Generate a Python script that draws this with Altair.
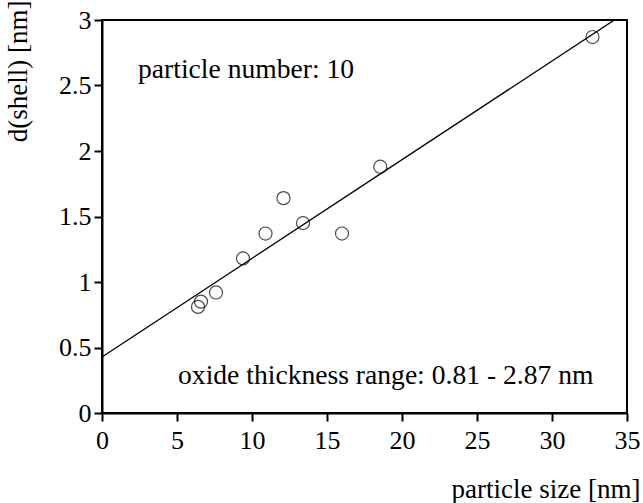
import altair as alt
import pandas as pd

particle_size = [6.4, 6.6, 7.6, 9.4, 10.9, 12.1, 13.4, 16.0, 18.55, 32.7]
shell_thickness = [0.81, 0.85, 0.92, 1.18, 1.37, 1.64, 1.45, 1.37, 1.88, 2.87]

note_text = ["particle number: 10", "oxide thickness range: 0.81 - 2.87 nm"]
note_x = [2.4, 5.07]
note_y = [2.555, 0.22]

df = pd.DataFrame({"x": particle_size, "y": shell_thickness})
notes = pd.DataFrame({"t": note_text, "x": note_x, "y": note_y})

FONT = "Liberation Serif"

xscale = alt.Scale(domain=[0, 35], nice=False, zero=False)
yscale = alt.Scale(domain=[0, 3], nice=False, zero=False)

xaxis = alt.Axis(
    title="particle size [nm]", values=[0, 5, 10, 15, 20, 25, 30, 35],
    grid=False, domainColor="black", domainWidth=2, tickColor="black",
    tickWidth=2, tickSize=8, labelPadding=6, labelFont=FONT, labelFontSize=26,
    labelColor="black", titleFont=FONT, titleFontSize=27, titleFontWeight="normal",
    titleColor="black", titleAlign="right", titleAnchor="end", titleX=538,
    titleY=84, titleBaseline="alphabetic", labelFlush=False,
)
yaxis = alt.Axis(
    title="d(shell) [nm]", values=[0, 0.5, 1, 1.5, 2, 2.5, 3], format="~g",
    grid=False, domainColor="black", domainWidth=2, tickColor="black",
    tickWidth=2, tickSize=8, labelPadding=3, labelFont=FONT, labelFontSize=26,
    labelColor="black", titleFont=FONT, titleFontSize=27, titleFontWeight="normal",
    titleColor="black", titleAngle=-90, titleAlign="right", titleX=-84,
    titleY=-20, titleBaseline="middle", labelFlush=False,
)

base = alt.Chart(df)

points = base.mark_point(shape="circle", filled=False, stroke="black",
                         strokeWidth=1.2, size=170).encode(
    x=alt.X("x:Q", scale=xscale, axis=xaxis),
    y=alt.Y("y:Q", scale=yscale, axis=yaxis),
)

fit = base.transform_regression("x", "y", extent=[0, 35]).mark_line(
    color="black", strokeWidth=1.3, clip=True).encode(
    x=alt.X("x:Q", scale=xscale),
    y=alt.Y("y:Q", scale=yscale),
)

labels = alt.Chart(notes).mark_text(font=FONT, fontSize=27.6, align="left",
                                     baseline="alphabetic", color="black").encode(
    x=alt.X("x:Q", scale=xscale),
    y=alt.Y("y:Q", scale=yscale),
    text="t:N",
)

chart = alt.layer(fit, points, labels).properties(
    width=525, height=393,
    autosize=alt.AutoSizeParams(type="none"),
    padding={"left": 102, "top": 20, "right": 16, "bottom": 90},
    background="white",
).configure_view(stroke="black", strokeWidth=2)

chart.save("out.html", embed_options={"renderer": "svg", "actions": False})
